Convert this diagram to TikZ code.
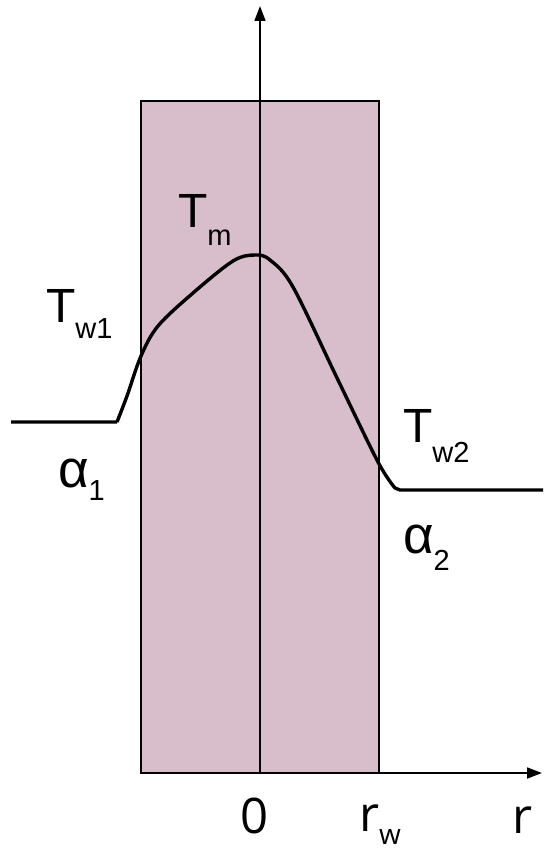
\documentclass[tikz,border=0pt]{standalone}
\usepackage{fontspec}
\setmainfont{Liberation Sans}
\newfontfamily\axisfont{Open Sans}
\usetikzlibrary{arrows.meta}
\definecolor{wallfill}{RGB}{216,190,202}
\tikzset{
  lbl/.style={anchor=base west, inner sep=0pt, outer sep=0pt, font=\fontsize{48}{48}\selectfont},
  axlbl/.style={anchor=base west, inner sep=0pt, outer sep=0pt, font=\axisfont\fontsize{49}{49}\selectfont},
  axisline/.style={line width=1.7pt, -{Triangle[length=15pt,width=11pt]}},
  curve/.style={line width=3.4pt, line join=round}
}
\newcommand{\subtxt}[2]{\raisebox{-#1pt}{\fontsize{29}{29}\selectfont #2}}
\begin{document}
\begin{tikzpicture}[x=1pt,y=-1pt]
\useasboundingbox (0,0) rectangle (543,853);
% wall
\draw[fill=wallfill, line width=1.7pt] (141,101) rectangle (379,773);
% axes
\coordinate (o) at (260,773);
\coordinate (ytip) at (260,6);
\coordinate (xl) at (141,773);
\coordinate (xtip) at (542,773);
\draw[axisline] (o) -- (ytip);
\draw[axisline] (xl) -- (xtip);
% temperature curve
\draw[curve] (11,422) -- (117,422)
  plot[smooth, tension=0.55] coordinates {(117,422) (127,396) (141,356) (158,326) (193,293) (233,261) (255,255) (270,260) (293,287) (338,380) (378,462) (395,488)}
  -- (400,490) -- (543,490);
% labels
\node[lbl] (tm) at (178,227) {T\subtxt{18}{m}};
\node[lbl] (tw1) at (46,322) {T\subtxt{16}{w1}};
\node[lbl] (tw2) at (403,442) {T\subtxt{20}{w2}};
\node[lbl, font=\fontsize{53}{53}\selectfont] (a1) at (58,487) {α\subtxt{13}{1}};
\node[lbl, font=\fontsize{53}{53}\selectfont] (a2) at (403,553) {α\subtxt{17}{2}};
\node[axlbl] (zero) at (240,833) {0};
\node[axlbl] (rw) at (359,831) {r\raisebox{-13pt}{\fontsize{28}{28}\selectfont w}};
\node[axlbl] (r) at (512,833) {r};
\end{tikzpicture}
\end{document}
